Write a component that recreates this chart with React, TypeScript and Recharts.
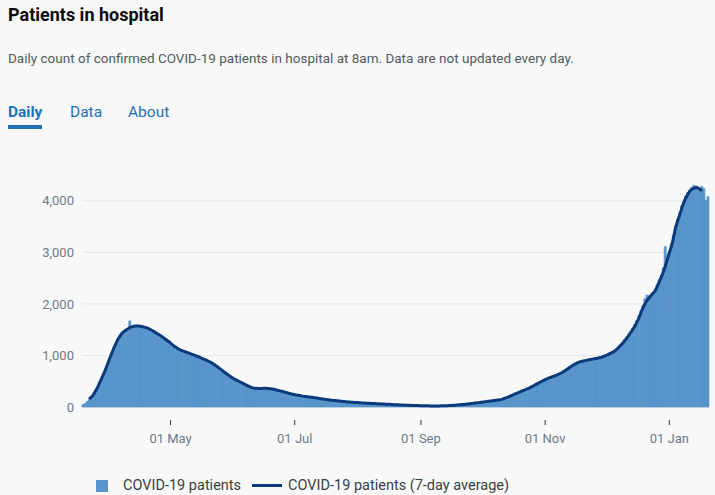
import React from "react";
import { ComposedChart, Bar, Line, XAxis, YAxis, CartesianGrid } from "recharts";

// first day of the series; one bar per day after that
const START_DATE = [2020, 2, 19];

const X_TICKS = ["2020-05-01", "2020-07-01", "2020-09-01", "2020-11-01", "2021-01-01"];
const X_TICK_LABELS = ["01 May", "01 Jul", "01 Sep", "01 Nov", "01 Jan"];
const Y_TICKS = [0, 1000, 2000, 3000, 4000];

// daily count of patients in hospital
const patients = [
  45, 70, 105,
  140, 185, 240, 310, 380, 470, 560,
  650, 740, 840, 950, 1050, 1150, 1240,
  1320, 1380, 1440, 1470, 1500, 1520, 1670,
  1540, 1580, 1560, 1590, 1550, 1570, 1540,
  1545, 1510, 1500, 1470, 1455, 1425, 1400,
  1380, 1350, 1320, 1295, 1260, 1230, 1200,
  1165, 1140, 1120, 1100, 1080, 1070, 1055,
  1040, 1020, 1010, 995, 980, 960, 945,
  930, 910, 890, 870, 850, 825, 800,
  770, 740, 705, 680, 650, 620, 595,
  570, 545, 525, 505, 480, 460, 440,
  420, 400, 385, 370, 362, 360, 358,
  362, 360, 365, 360, 356, 352, 344,
  336, 326, 318, 308, 298, 286, 275,
  265, 255, 245, 238, 230, 222, 215,
  208, 203, 198, 193, 188, 182, 176,
  170, 163, 157, 151, 146, 141, 136,
  131, 126, 122, 118, 112, 108, 104,
  100, 97, 94, 91, 88, 86, 83,
  81, 78, 76, 74, 72, 70, 68,
  66, 64, 62, 59, 57, 55, 53,
  51, 49, 47, 45, 43, 41, 39,
  37, 35, 34, 32, 31, 29, 28,
  27, 26, 25, 24, 23, 22, 21,
  20, 19, 20, 21, 22, 23, 24,
  26, 27, 29, 32, 35, 38, 41,
  45, 49, 53, 57, 61, 66, 71,
  76, 81, 86, 91, 97, 102, 107,
  113, 118, 123, 128, 133, 138, 145,
  158, 172, 188, 203, 220, 238, 256,
  273, 290, 308, 324, 340, 355, 372,
  395, 418, 440, 460, 480, 500, 520,
  540, 556, 572, 588, 602, 618, 634,
  650, 672, 698, 724, 752, 778, 806,
  832, 850, 868, 880, 890, 900, 910,
  916, 924, 932, 938, 946, 955, 965,
  978, 992, 1010, 1030, 1050, 1070, 1095,
  1130, 1170, 1210, 1255, 1305, 1355, 1410,
  1470, 1530, 1600, 1680, 1770, 1870, 1960,
  2100, 2170, 2160, 2180, 2220, 2290, 2380,
  2470, 2560, 2700, 3110, 2800, 3020, 3160,
  3330, 3520, 3640, 3770, 3900, 3990, 4090,
  4160, 4210, 4260, 4300, 4290, 4270, 4180,
  4280, 4240, 4010, 4080,
];

// 7-day average, starts on the 4th day of the series
const AVERAGE_OFFSET = 3;
const average = [
  150, 190, 230, 300, 370, 455, 540,
  630, 720, 825, 930, 1030, 1130, 1215,
  1300, 1365, 1420, 1460, 1490, 1515, 1540,
  1555, 1565, 1570, 1570, 1568, 1560, 1550,
  1540, 1525, 1505, 1485, 1460, 1435, 1410,
  1385, 1360, 1330, 1300, 1270, 1240, 1205,
  1175, 1150, 1125, 1105, 1090, 1075, 1060,
  1045, 1030, 1015, 1000, 985, 970, 952,
  935, 918, 900, 880, 860, 835, 810,
  780, 750, 720, 690, 660, 630, 602,
  575, 552, 530, 510, 490, 470, 450,
  430, 410, 392, 375, 365, 362, 360,
  360, 361, 362, 362, 360, 355, 348,
  340, 330, 321, 312, 301, 290, 279,
  268, 258, 248, 240, 232, 225, 218,
  211, 205, 200, 195, 190, 185, 179,
  173, 166, 160, 154, 148, 143, 138,
  133, 128, 124, 120, 115, 110, 106,
  102, 99, 96, 93, 90, 87, 85,
  82, 80, 77, 75, 73, 71, 69,
  67, 65, 63, 60, 58, 56, 54,
  52, 50, 48, 46, 44, 42, 40,
  38, 36, 35, 33, 32, 30, 29,
  28, 27, 26, 25, 24, 23, 22,
  21, 20, 20, 20, 21, 22, 23,
  25, 26, 28, 30, 33, 36, 39,
  43, 47, 51, 55, 59, 63, 68,
  73, 78, 83, 88, 94, 99, 104,
  110, 115, 120, 125, 130, 135, 140,
  152, 165, 180, 195, 212, 230, 248,
  265, 282, 300, 316, 332, 348, 362,
  385, 405, 428, 450, 470, 490, 510,
  530, 548, 565, 580, 595, 610, 625,
  642, 660, 685, 710, 738, 765, 792,
  820, 840, 860, 874, 885, 895, 905,
  912, 920, 928, 935, 942, 950, 960,
  970, 985, 1000, 1020, 1040, 1060, 1080,
  1112, 1150, 1190, 1230, 1280, 1330, 1385,
  1440, 1500, 1560, 1640, 1720, 1820, 1920,
  1995, 2060, 2110, 2160, 2205, 2250, 2330,
  2420, 2515, 2610, 2730, 2860, 2990, 3110,
  3270, 3460, 3600, 3710, 3840, 3950, 4045,
  4120, 4180, 4220, 4245, 4255, 4250, 4225,
  4190,
];

const BAR_COLOUR = "#5694ca";
const LINE_COLOUR = "#0b3a7c";
const AXIS_TEXT = "#6f7a87";
const FONT = "Roboto, 'Noto Sans', sans-serif";

const chartData = patients.map((value, i) => {
  const d = new Date(Date.UTC(START_DATE[0], START_DATE[1], START_DATE[2] + i));
  const avg = average[i - AVERAGE_OFFSET];
  return {
    date: d.toISOString().slice(0, 10),
    patients: value,
    average: avg === undefined ? null : avg,
  };
});

const DateTick = (props: any) => {
  const { x, y, payload } = props;
  const idx = X_TICKS.indexOf(payload.value);
  return (
    <g>
      <line x1={x} x2={x} y1={y + 5} y2={y + 10} stroke="#333" strokeWidth={1} />
      <text x={x} y={y + 28} textAnchor="middle" fill={AXIS_TEXT} fontSize={13} fontFamily={FONT}>
        {idx >= 0 ? X_TICK_LABELS[idx] : ""}
      </text>
    </g>
  );
};

export default function App() {
  return (
    <div
      style={{
        position: "absolute",
        left: 0,
        top: 0,
        width: 715,
        height: 495,
        background: "#f8f8f8",
        fontFamily: FONT,
        overflow: "hidden",
      }}
    >
      <div style={{ position: "absolute", left: 8, top: 4, fontSize: 18, fontWeight: 700, color: "#0b0c0c" }}>
        Patients in hospital
      </div>
      <div style={{ position: "absolute", left: 8, top: 50, fontSize: 13.5, color: "#505a5f" }}>
        Daily count of confirmed COVID-19 patients in hospital at 8am. Data are not updated every day.
      </div>

      <div style={{ position: "absolute", left: 8, top: 103, fontSize: 15.5, color: "#1d70b8" }}>
        <span style={{ fontWeight: 700, display: "inline-block", borderBottom: "4px solid #1d70b8", paddingBottom: 4 }}>
          Daily
        </span>
        <span style={{ position: "absolute", left: 62, top: 0 }}>Data</span>
        <span style={{ position: "absolute", left: 120, top: 0 }}>About</span>
      </div>

      <div style={{ position: "absolute", left: 0, top: 150 }}>
        <ComposedChart
          width={715}
          height={300}
          data={chartData}
          margin={{ top: 24, right: 6, bottom: 3, left: 0 }}
          barCategoryGap={0}
          barGap={0}
        >
          <CartesianGrid vertical={false} stroke="#e6e6e6" horizontalValues={Y_TICKS} />
          <XAxis
            dataKey="date"
            ticks={X_TICKS}
            interval={0}
            axisLine={false}
            tickLine={false}
            height={40}
            tick={<DateTick />}
          />
          <YAxis
            width={82}
            domain={[0, 4520]}
            ticks={Y_TICKS}
            axisLine={false}
            tickLine={false}
            tick={{ fill: AXIS_TEXT, fontSize: 13, fontFamily: FONT }}
            tickFormatter={(v: number) => v.toLocaleString("en-GB")}
          />
          <Bar
            dataKey="patients"
            fill={BAR_COLOUR}
            stroke={BAR_COLOUR}
            strokeWidth={0.7}
            isAnimationActive={false}
          />
          <Line
            dataKey="average"
            type="monotone"
            stroke={LINE_COLOUR}
            strokeWidth={3}
            dot={false}
            activeDot={false}
            isAnimationActive={false}
          />
        </ComposedChart>
      </div>

      <div
        style={{
          position: "absolute",
          left: 96,
          top: 477,
          fontSize: 14.5,
          color: "#383f43",
          display: "flex",
          alignItems: "center",
          whiteSpace: "nowrap",
        }}
      >
        <span style={{ width: 12, height: 12, background: BAR_COLOUR, display: "inline-block", marginRight: 15 }} />
        <span>COVID-19 patients</span>
        <span style={{ width: 30, height: 3, background: LINE_COLOUR, display: "inline-block", margin: "0 6px 0 11px" }} />
        <span>COVID-19 patients (7-day average)</span>
      </div>
    </div>
  );
}
